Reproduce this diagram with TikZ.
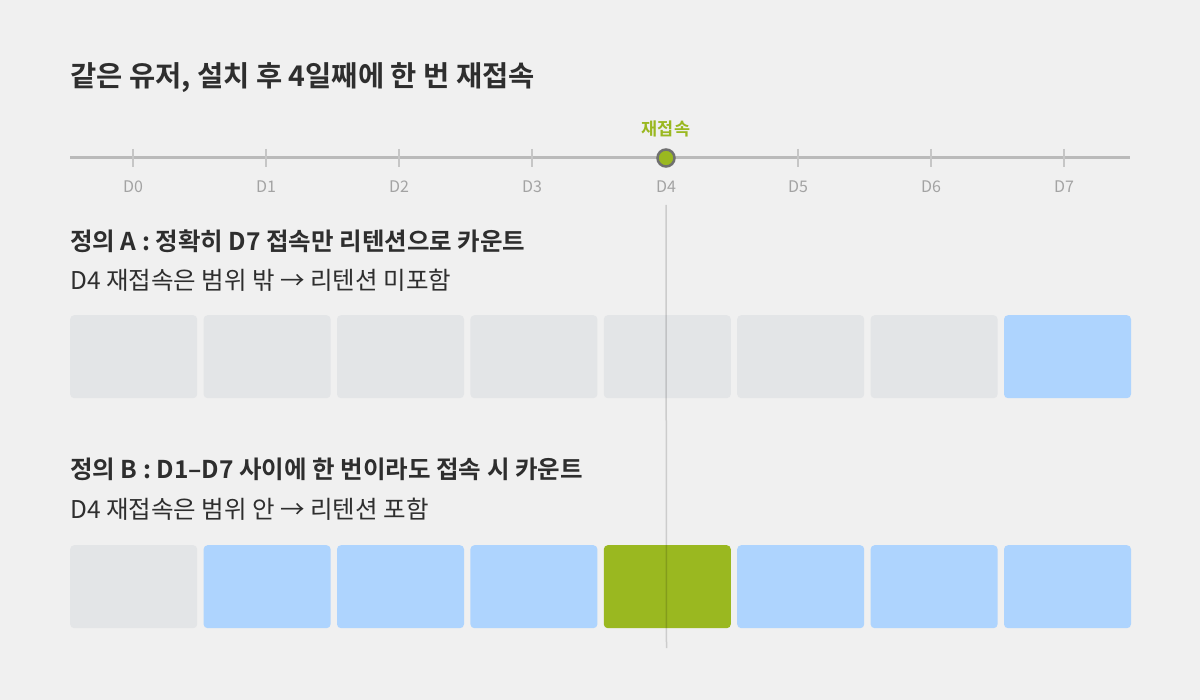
\documentclass[tikz,border=0pt]{standalone}
\usepackage{fontspec}
\setmainfont{Noto Sans CJK KR}[BoldFont={Noto Sans CJK KR Bold}]
\usetikzlibrary{positioning}
\definecolor{bgcol}{HTML}{F0F0F0}
\definecolor{txtcol}{HTML}{2E2E2E}
\definecolor{linecol}{HTML}{BABABA}
\definecolor{tickcol}{HTML}{C6C6C6}
\definecolor{daycol}{HTML}{A3A3A3}
\definecolor{offcol}{HTML}{E3E5E7}
\definecolor{oncol}{HTML}{AED4FE}
\definecolor{hitcol}{HTML}{9AB820}
\definecolor{ringcol}{HTML}{707070}

\begin{document}
\begin{tikzpicture}[x=1pt, y=-1pt,
  day label/.style={text=daycol,font=\fontsize{16}{18}\selectfont,inner sep=0pt},
  head/.style={text=txtcol,font=\fontsize{24.5}{28}\selectfont\bfseries,anchor=west,inner sep=0pt},
  sub/.style={text=txtcol,font=\fontsize{24.5}{28}\selectfont,anchor=west,inner sep=0pt},
  cell/.style={rectangle,rounded corners=4pt,minimum width=127pt,minimum height=83pt,inner sep=0pt,anchor=north west},
  off/.style={cell,fill=offcol},
  on/.style={cell,fill=oncol},
  hit/.style={cell,fill=hitcol}]
\fill[bgcol] (0,0) rectangle (1200,700);
\useasboundingbox (0,0) rectangle (1200,700);

% title
\node[text=txtcol,font=\fontsize{28.5}{32}\selectfont\bfseries,anchor=west,inner sep=0pt] (title) at (70,78) {같은 유저, 설치 후 4일째에 한 번 재접속};

% timeline
\coordinate (tl0) at (70,158);
\coordinate (tl1) at (1130,158);
\draw[linecol, line width=3pt] (tl0) -- (tl1);
\begin{scope}[tickcol, line width=1.5pt]
\draw (133,149) -- (133,167);
\draw (266,149) -- (266,167);
\draw (399,149) -- (399,167);
\draw (532,149) -- (532,167);
\draw (798,149) -- (798,167);
\draw (931,149) -- (931,167);
\draw (1064,149) -- (1064,167);
\end{scope}
\node[day label] (d0) at (133,187) {D0};
\node[day label] (d1) at (266,187) {D1};
\node[day label] (d2) at (399,187) {D2};
\node[day label] (d3) at (532,187) {D3};
\node[day label] (d4) at (666,187) {D4};
\node[day label] (d5) at (798,187) {D5};
\node[day label] (d6) at (931,187) {D6};
\node[day label] (d7) at (1064,187) {D7};
\node[circle,fill=hitcol,draw=ringcol,line width=2.5pt,minimum size=17pt,inner sep=0pt] (dot) at (666,158) {};
\node[text=hitcol,font=\fontsize{17.5}{20}\selectfont\bfseries,inner sep=0pt,above=11pt of dot] (ret) {재접속};

% definition A
\node[head] (headA) at (70,241) {정의 A : 정확히 D7 접속만 리텐션으로 카운트};
\node[sub] (subA) at (70,280) {D4 재접속은 범위 밖 → 리텐션 미포함};
\node[off] (a0) at (70,315) {};
\node[off] (a1) at (203.4,315) {};
\node[off] (a2) at (336.8,315) {};
\node[off] (a3) at (470.2,315) {};
\node[off] (a4) at (603.6,315) {};
\node[off] (a5) at (737,315) {};
\node[off] (a6) at (870.4,315) {};
\node[on] (a7) at (1003.8,315) {};

% definition B
\node[head] (headB) at (70,469) {정의 B : D1–D7 사이에 한 번이라도 접속 시 카운트};
\node[sub] (subB) at (70,509) {D4 재접속은 범위 안 → 리텐션 포함};
\node[off] (b0) at (70,545) {};
\node[on] (b1) at (203.4,545) {};
\node[on] (b2) at (336.8,545) {};
\node[on] (b3) at (470.2,545) {};
\node[hit] (b4) at (603.6,545) {};
\node[on] (b5) at (737,545) {};
\node[on] (b6) at (870.4,545) {};
\node[on] (b7) at (1003.8,545) {};

% guide through D4
\coordinate (gEnd) at (666.5,648);
\draw[black, opacity=0.15, line width=1.5pt] (d4.south |- 0,205) -- (gEnd);
\end{tikzpicture}
\end{document}
